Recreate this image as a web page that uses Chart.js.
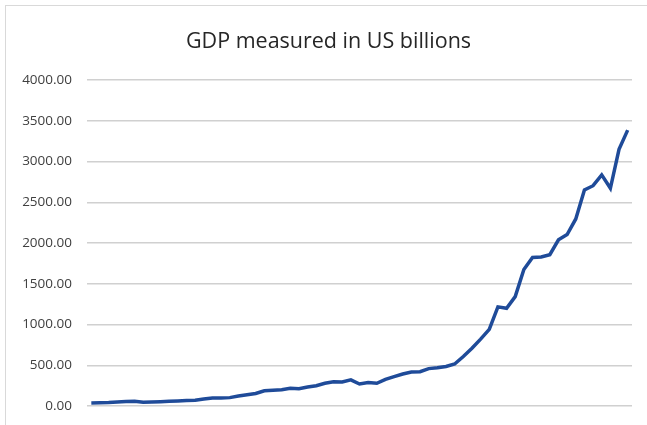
<!DOCTYPE html>
<html>
<head>
<meta charset="utf-8">
<title>GDP measured in US billions</title>
<script src="https://cdn.jsdelivr.net/npm/chart.js"></script>
<style>
    html, body { margin: 0; padding: 0; background: #fff; overflow: hidden; }
    .frame { position: absolute; left: 5px; top: 5px; width: 700px; height: 500px; border: 1px solid #d9d9d9; }
    .wrap { position: absolute; left: 0; top: 0; width: 647px; height: 425px; }
    .title { position: absolute; left: 0; top: 29px; width: 657px; text-align: center;
             font-family: 'Open Sans', sans-serif; font-size: 21.5px; line-height: 21.5px; color: #262626; }
</style>
</head>
<body>
<div class="frame"></div>
<div class="wrap"><canvas id="gdpChart" width="647" height="425"></canvas></div>
<div class="title">GDP measured in US billions</div>
<script>
// Years on the category axis (labels are not shown in the picture)
const years = [];
for (let y = 1960; y <= 2022; y++) years.push(y);

// GDP, US$ billions, one value per year
const gdp = [
    37.0, 39.2, 42.2, 48.4, 56.5, 59.6, 45.9, 50.1, 53.1, 58.4,
    62.4, 67.4, 71.5, 85.5, 99.5, 98.5, 102.7, 121.5, 137.3, 153.0,
    186.3, 193.5, 200.7, 218.3, 212.2, 232.5, 249.0, 279.0, 296.6, 296.0,
    321.0, 270.1, 288.2, 279.3, 327.3, 360.3, 392.9, 415.9, 421.4, 458.8,
    468.4, 485.4, 514.9, 607.7, 709.1, 820.4, 940.3, 1216.7, 1198.9, 1341.9,
    1675.6, 1823.1, 1827.6, 1856.7, 2039.1, 2103.6, 2294.8, 2651.5, 2702.9, 2835.6,
    2671.6, 3150.3, 3385.1
];

const yMin = 0;
const yMax = 4000;
const yStep = 500;

const ctx = document.getElementById('gdpChart').getContext('2d');
new Chart(ctx, {
    type: 'line',
    data: {
        labels: years,
        datasets: [{
            label: 'GDP',
            data: gdp,
            borderColor: '#1f4b99',
            borderWidth: 3.5,
            pointRadius: 0,
            fill: false,
            tension: 0
        }]
    },
    options: {
        responsive: false,
        animation: false,
        layout: { padding: { left: 0, right: 15, top: 80, bottom: 19 } },
        scales: {
            x: {
                display: false,
                offset: true
            },
            y: {
                min: yMin,
                max: yMax,
                border: { display: false },
                grid: { color: '#d0d0d0', lineWidth: 1.5, drawTicks: false },
                afterFit: (scale) => {
                    scale.width = 87;
                    // tick padding otherwise pushes the plot area up
                    scale.paddingTop = 0;
                    scale.paddingBottom = 0;
                },
                ticks: {
                    stepSize: yStep,
                    padding: 15,
                    color: '#404040',
                    font: { family: 'Open Sans', size: 13.5 },
                    callback: (v) => Number(v).toFixed(2)
                }
            }
        },
        plugins: {
            legend: { display: false },
            tooltip: { enabled: false },
            title: { display: false }
        }
    }
});
</script>
</body>
</html>
